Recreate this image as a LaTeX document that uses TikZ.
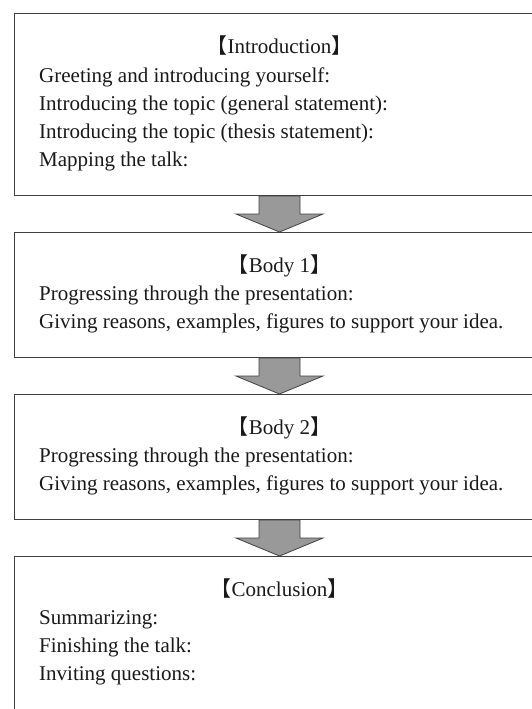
\documentclass[tikz,border=0pt]{standalone}
\usepackage{fontspec}
\setmainfont{Liberation Serif}
\newfontfamily\cjk{Noto Sans CJK JP}
\usetikzlibrary{positioning}

\begin{document}
\begin{tikzpicture}[
    x=1pt, y=-1pt,
    node distance=36pt,
    stagebox/.style={rectangle, draw=black!75, line width=1pt, minimum width=530pt, inner sep=0pt},
    heading/.style={font=\fontsize{21}{28}\selectfont, text=black!90, inner sep=0pt, anchor=base},
    lineitem/.style={font=\fontsize{21}{28}\selectfont, text=black!90, inner sep=0pt, anchor=base west},
    flowarrow/.style={draw=black!75, fill=black!40, line width=0.8pt, line join=miter}
]

% Page frame
\useasboundingbox (0,0) rectangle (532,709);
\clip (0,0) rectangle (532,709);

% Stage boxes
\node[stagebox, minimum height=182pt, anchor=north west] (intro) at (14,13) {};
\node[stagebox, minimum height=125pt, below=of intro] (bodyone) {};
\node[stagebox, minimum height=125pt, below=of bodyone] (bodytwo) {};
\node[stagebox, minimum height=200pt, below=of bodytwo] (concl) {};

% Introduction
\node[heading] (introhead) at ([yshift=-41pt]intro.north) {{\cjk【}Introduction{\cjk】}};
\foreach \txt [count=\i] in {Greeting and introducing yourself:, Introducing the topic (general statement):, Introducing the topic (thesis statement):, Mapping the talk:}
  \node[lineitem] (intro-\i) at ([xshift=25pt, yshift={-41pt-28pt*\i}]intro.north west) {\txt};

% Body 1 and Body 2
\foreach \b/\n in {bodyone/1, bodytwo/2} {
  \node[heading] (\b head) at ([yshift=-40pt]\b.north) {{\cjk【}Body \n{\cjk】}};
  \foreach \txt [count=\i] in {Progressing through the presentation:, {Giving reasons, examples, figures to support your idea.}}
    \node[lineitem] (\b-\i) at ([xshift=25pt, yshift={-40pt-28pt*\i}]\b.north west) {\txt};
}

% Conclusion
\node[heading] (conclhead) at ([yshift=-40pt]concl.north) {{\cjk【}Conclusion{\cjk】}};
\foreach \txt [count=\i] in {Summarizing:, Finishing the talk:, Inviting questions:}
  \node[lineitem] (concl-\i) at ([xshift=25pt, yshift={-40pt-28pt*\i}]concl.north west) {\txt};

% Arrows between stages
\foreach \a/\b in {intro/bodyone, bodyone/bodytwo, bodytwo/concl}
  \draw[flowarrow] ([xshift=-20.5pt]\a.south) -- ++(0,18) -- ++(-23,0) -- (\b.north)
    -- ([xshift=43.5pt, yshift=-18pt]\a.south) -- ++(-23,0) -- ([xshift=20.5pt]\a.south) -- cycle;

\end{tikzpicture}
\end{document}
